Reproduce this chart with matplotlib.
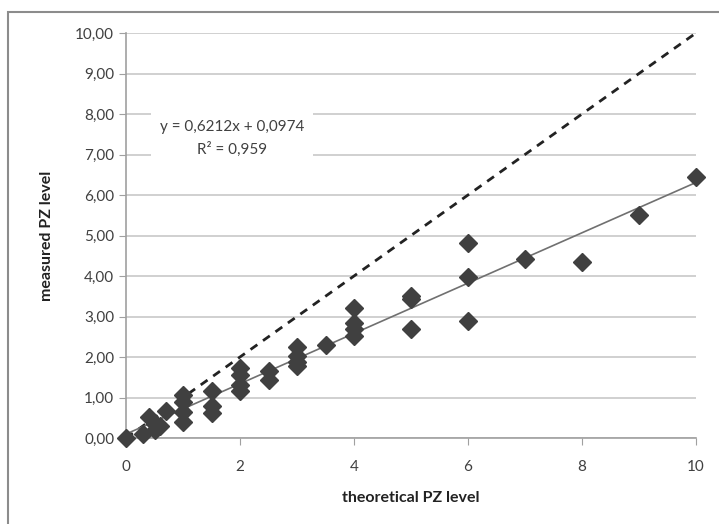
import matplotlib
matplotlib.use("Agg")
import matplotlib.pyplot as plt
from matplotlib.patches import Rectangle
from matplotlib.ticker import FuncFormatter

plt.rcParams['font.family'] = ['Lato', 'DejaVu Sans']

theoretical = [0, 0.3, 0.4, 0.5, 0.5, 0.6, 0.7,
               1, 1, 1, 1,
               1.5, 1.5, 1.5,
               2, 2, 2, 2,
               2.5, 2.5,
               3, 3, 3, 3,
               3.5,
               4, 4, 4, 4,
               5, 5, 5,
               6, 6, 6,
               7, 8, 9, 10]
measured = [0, 0.09, 0.52, 0.35, 0.2, 0.3, 0.67,
            1.05, 0.9, 0.65, 0.4,
            1.17, 0.8, 0.62,
            1.72, 1.56, 1.31, 1.16,
            1.65, 1.42,
            2.25, 2.02, 1.88, 1.77,
            2.3,
            3.2, 2.83, 2.68, 2.52,
            3.5, 3.42, 2.68,
            4.82, 3.98, 2.9,
            4.43, 4.34, 5.5, 6.45]

slope = 0.6212
intercept = 0.0974
r2 = 0.959
ideal_x = [0, 10]
ideal_y = [0, 10]
x_ticks = [0, 2, 4, 6, 8, 10]
y_ticks = [0, 1, 2, 3, 4, 5, 6, 7, 8, 9, 10]

fig = plt.figure(figsize=(7.19, 5.24), dpi=100)
fig.patches.append(Rectangle((8/719, -0.1), 1.2, 1 - 12/524 + 0.1, transform=fig.transFigure,
                             fill=False, edgecolor='#8c8c8c', linewidth=1.5))
ax = fig.add_axes([126/719, 1 - 438/524, (696 - 126)/719, (438 - 33)/524])

ax.set_xlim(0, 10)
ax.set_ylim(0, 10)
ax.set_xticks(x_ticks)
ax.set_yticks(y_ticks)
ax.yaxis.set_major_formatter(FuncFormatter(lambda v, p: f"{v:.2f}".replace('.', ',')))
ax.xaxis.set_major_formatter(FuncFormatter(lambda v, p: f"{int(v)}"))
ax.grid(axis='y', color='#c8c8c8', linewidth=1.2)
ax.set_axisbelow(True)
for s in ['top', 'right']:
    ax.spines[s].set_visible(False)
for s in ['left', 'bottom']:
    ax.spines[s].set_color('#a0a0a0')
    ax.spines[s].set_linewidth(1.2)
ax.tick_params(axis='both', colors='#a0a0a0', labelcolor='#404040', labelsize=11, length=5)
ax.tick_params(axis='x', pad=11)

ax.plot(ideal_x, ideal_y, linestyle=(0, (3, 2.5)), color='#222222', linewidth=2, zorder=2)
tx = [min(theoretical), max(theoretical)]
ax.plot(tx, [slope * v + intercept for v in tx], color='#707070', linewidth=1.2, zorder=2)
ax.plot(theoretical, measured, linestyle='none', marker='D', markersize=9.5,
        color='#404040', markeredgecolor='#404040', zorder=3, clip_on=False)

ax.text(1.86, 7.4, f"y = {slope:.4f}x + {intercept:.4f}".replace('.', ',') + "\n" +
        f"R² = {r2:.3f}".replace('.', ','),
        ha='center', va='center', fontsize=11, color='#404040', linespacing=1.6,
        bbox=dict(facecolor='white', edgecolor='none', pad=6), zorder=4)

ax.set_xlabel("theoretical PZ level", fontsize=11.5, fontweight='bold', color='#222222', labelpad=12)
ax.set_ylabel("measured PZ level", fontsize=11.5, fontweight='bold', color='#222222', labelpad=15)

fig.savefig("out.png", dpi=100)
